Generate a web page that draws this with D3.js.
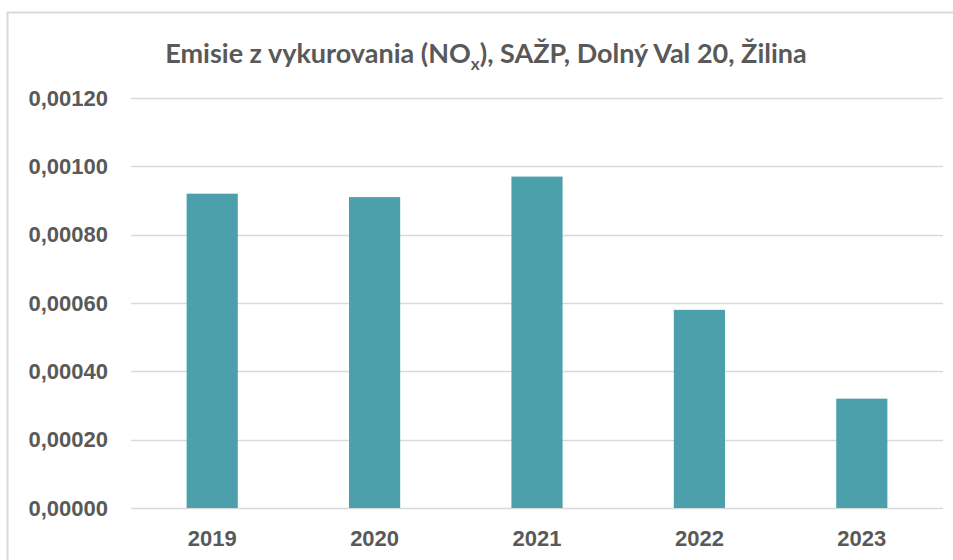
<!DOCTYPE html>
<html>
<head>
<meta charset="utf-8">
<script src="https://cdn.jsdelivr.net/npm/d3@7.9.0/dist/d3.min.js"></script>
<style>
  body { margin: 0; background: #fff; }
  svg { display: block; font-family: Lato, "Open Sans", sans-serif; }
</style>
</head>
<body>
<svg id="chart"></svg>
<script>
// Data
const years = ["2019", "2020", "2021", "2022", "2023"];
const emissions = [0.00092, 0.00091, 0.00097, 0.00058, 0.00032];
const yTicks = [0, 0.0002, 0.0004, 0.0006, 0.0008, 0.001, 0.0012];

const W = 953, H = 560;
const margin = { top: 98, right: 10, bottom: 52, left: 131 },
      width = 943 - margin.left,
      height = 508 - margin.top;

const textColor = "#595959";
const barColor = "#4BA0AC";

const svg = d3.select("#chart").attr("width", W).attr("height", H);

// Chart frame (left and top edges visible)
svg.append("path")
  .attr("d", `M7.5,${H} V12.5 H${W}`)
  .attr("fill", "none")
  .attr("stroke", "#d9d9d9")
  .attr("stroke-width", 2);

const g = svg.append("g").attr("transform", `translate(${margin.left},${margin.top})`);

const x = d3.scaleBand().domain(years).range([0, width]).paddingInner(0.685).paddingOuter(0.3425);
const y = d3.scaleLinear().domain([0, 0.0012]).range([height, 0]);

const sk = d3.formatLocale({ decimal: ",", thousands: " ", grouping: [3], currency: ["", " €"] });
const fmt = sk.format(".5f");

// Gridlines
g.append("g")
  .selectAll("line")
  .data(yTicks)
  .join("line")
  .attr("x1", 0).attr("x2", width)
  .attr("y1", d => Math.round(y(d)) + 0.5)
  .attr("y2", d => Math.round(y(d)) + 0.5)
  .attr("stroke", "#d9d9d9")
  .attr("stroke-width", 1.5);

// Y axis
const yAxis = g.append("g")
  .call(d3.axisLeft(y).tickValues(yTicks).tickFormat(fmt).tickSize(0).tickPadding(23));
yAxis.select(".domain").remove();
yAxis.selectAll("text")
  .attr("fill", textColor)
  .attr("font-size", "22px")
  .attr("font-weight", "bold");

// Bars
g.selectAll("rect.bar")
  .data(years.map((yr, i) => ({ yr, v: emissions[i] })))
  .join("rect")
  .attr("class", "bar")
  .attr("x", d => x(d.yr))
  .attr("y", d => y(d.v))
  .attr("width", x.bandwidth())
  .attr("height", d => height - y(d.v))
  .attr("fill", barColor);

// X axis
const xAxis = g.append("g")
  .attr("transform", `translate(0,${height})`)
  .call(d3.axisBottom(x).tickSize(0).tickPadding(22));
xAxis.select(".domain").remove();
xAxis.selectAll("text")
  .attr("fill", textColor)
  .attr("font-size", "22px")
  .attr("font-weight", "bold");

// Title
const title = svg.append("text")
  .attr("x", 486)
  .attr("y", 63)
  .attr("text-anchor", "middle")
  .attr("fill", textColor)
  .attr("font-size", "27px")
  .attr("font-weight", "bold");
title.append("tspan").text("Emisie z vykurovania (NO");
title.append("tspan").attr("font-size", "17px").attr("dy", 7).text("x");
title.append("tspan").attr("dy", -7).text("), SAŽP, Dolný Val 20, Žilina");
</script>
</body>
</html>
